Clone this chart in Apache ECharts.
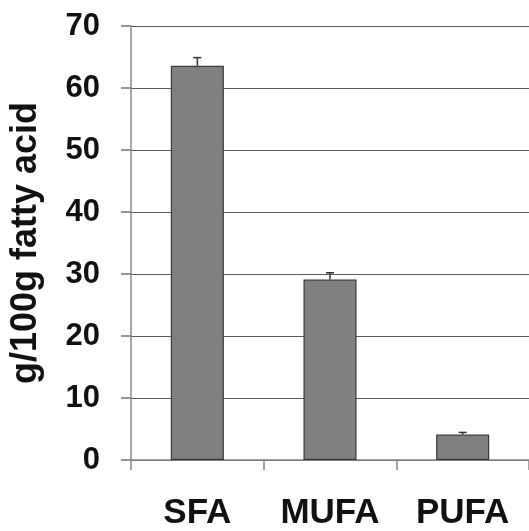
<!DOCTYPE html>
<html><head><meta charset="utf-8">
<script src="https://cdn.jsdelivr.net/npm/echarts@6/dist/echarts.min.js"></script>
<style>html,body{margin:0;padding:0;background:#fff}#c{width:529px;height:531px}</style>
</head><body><div id="c"></div>
<script>
const categories = ['SFA', 'MUFA', 'PUFA'];
const means = [63.6, 29.1, 4.1];
const errors = [1.3, 1.1, 0.35];
const yTicks = [0, 10, 20, 30, 40, 50, 60, 70];

const chart = echarts.init(document.getElementById('c'));
const FONT = 'Liberation Sans';
chart.setOption({
  animation: false,
  grid: { left: 131, right: -1, top: 26, bottom: 68, containLabel: false },
  xAxis: {
    type: 'category', data: categories,
    axisLine: { lineStyle: { color: '#888', width: 1.5 } },
    axisTick: { show: true, length: 10, lineStyle: { color: '#888', width: 1.5 } },
    axisLabel: { margin: 36, fontFamily: FONT, fontWeight: 'bold', fontSize: 35, color: '#111' }
  },
  yAxis: {
    type: 'value', min: yTicks[0], max: yTicks[yTicks.length - 1], interval: 10,
    name: 'g/100g fatty acid', nameLocation: 'middle', nameGap: 87,
    nameTextStyle: { fontFamily: FONT, fontWeight: 'bold', fontSize: 36, color: '#111' },
    axisLine: { show: true, lineStyle: { color: '#888', width: 1.5 } },
    axisTick: { show: true, length: 10, lineStyle: { color: '#777', width: 1.5 } },
    splitLine: { show: true, lineStyle: { color: '#5a5a5a', width: 1.2 } },
    axisLabel: { margin: 31, fontFamily: FONT, fontWeight: 'bold', fontSize: 31, color: '#111' }
  },
  series: [
    {
      type: 'bar', data: means, barWidth: '40%',
      itemStyle: { color: '#808080', borderColor: '#3a3a3a', borderWidth: 1.2 }
    },
    {
      type: 'custom',
      data: means.map((m, i) => [i, m, m + errors[i]]),
      renderItem: function (params, api) {
        const lo = api.coord([api.value(0), api.value(1)]);
        const hi = api.coord([api.value(0), api.value(2)]);
        const hw = 4;
        const st = { stroke: '#333', lineWidth: 1.5 };
        return { type: 'group', children: [
          { type: 'line', shape: { x1: lo[0], y1: lo[1], x2: hi[0], y2: hi[1] }, style: st },
          { type: 'line', shape: { x1: hi[0] - hw, y1: hi[1], x2: hi[0] + hw, y2: hi[1] }, style: st }
        ]};
      },
      z: 5
    }
  ]
});
</script></body></html>
